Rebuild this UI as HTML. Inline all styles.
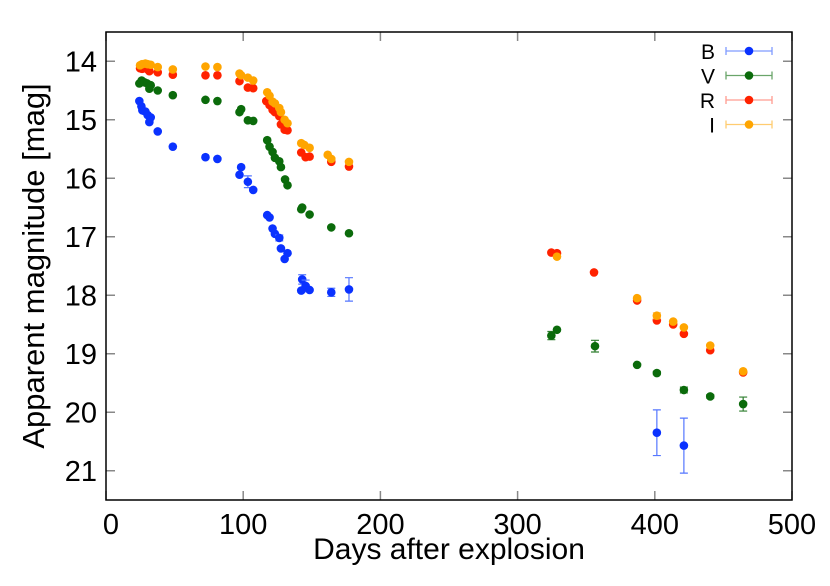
<!DOCTYPE html>
<html><head><meta charset="utf-8"><style>
body{margin:0;background:#fff}
svg text{font-family:"Liberation Sans",sans-serif;fill:#000}
</style></head><body>
<svg id="chart" width="830" height="581" xmlns="http://www.w3.org/2000/svg">
<g id="axes"></g>
<g id="marks"></g>
<g id="legend"></g>
<text x="0" y="0" transform="translate(44,266) rotate(-90)" text-anchor="middle" font-size="31">Apparent magnitude [mag]</text>
<text x="449" y="559" text-anchor="middle" font-size="30">Days after explosion</text>
</svg>
<script>
const xTicks=[0,100,200,300,400,500];
const yTicks=[14,15,16,17,18,19,20,21];
const bDays=[24.3,25.8,26.5,28.7,30.4,32.6,31.6,37.7,48.7,72.5,81.2,98.5,97.3,103.4,107.3,117.5,119.2,121.4,123.1,126.3,127.5,132.3,130.2,143,145.5,142.3,148.4,164.2,177.1,401.5,421.2];
const bMag=[14.68,14.77,14.84,14.86,14.92,14.96,15.04,15.20,15.46,15.64,15.67,15.81,15.94,16.06,16.20,16.63,16.67,16.86,16.95,17.02,17.20,17.28,17.38,17.73,17.84,17.92,17.91,17.95,17.90,20.35,20.57];
const bErr=[0,0,0,0,0,0,0,0,0,0,0,0,0,0.1,0,0,0,0,0,0.05,0,0,0,0.08,0.1,0,0,0.07,0.2,0.39,0.47];
const vDays=[24.3,26,28,30,32.6,31.6,37.7,48.7,72.5,81.2,98.5,97.3,103.4,107.3,117.5,119.2,121.4,123.1,126.3,127.5,130.5,132.3,143,142.3,148.4,164.2,177.1,324.6,328.7,356.4,387.1,401.5,421.2,440.4,464.4];
const vMag=[14.38,14.33,14.36,14.38,14.41,14.47,14.50,14.58,14.66,14.68,14.82,14.87,15.01,15.02,15.35,15.46,15.55,15.65,15.71,15.81,16.02,16.12,16.50,16.53,16.62,16.84,16.94,18.69,18.59,18.87,19.19,19.33,19.62,19.73,19.86];
const vErr=[0,0,0,0,0,0,0,0,0,0,0,0,0,0,0,0,0,0,0,0,0,0,0,0,0,0,0,0.07,0,0.1,0,0.03,0.05,0.03,0.12];
const rDays=[24.8,26.3,28.7,30.4,31.6,37.7,48.7,72.5,81.2,97.3,103.4,107.3,116.8,119.2,121.4,123.1,126.3,127.5,130.2,132.3,142.3,145.5,148.4,164.2,177.1,324.6,328.7,355.7,387.1,401.5,413.4,421.2,440.4,464.4];
const rMag=[14.12,14.13,14.12,14.14,14.17,14.19,14.23,14.24,14.24,14.34,14.45,14.46,14.68,14.75,14.83,14.87,14.94,15.08,15.17,15.18,15.56,15.64,15.63,15.72,15.80,17.27,17.28,17.61,18.09,18.43,18.50,18.66,18.94,19.32];
const iDays=[24.8,26.3,28.7,30.4,32.6,37.7,48.7,72.5,81.2,97.3,98.5,103.4,107.3,117.5,119.2,121.4,123.1,126.3,127.5,130.2,132.3,142.3,144.5,148.4,161.6,164.2,177.1,328.7,387.1,401.5,413.4,421.2,440.4,464.4];
const iMag=[14.07,14.05,14.04,14.05,14.06,14.10,14.14,14.09,14.10,14.21,14.24,14.28,14.33,14.53,14.59,14.69,14.72,14.80,14.87,15.00,15.06,15.40,15.43,15.48,15.60,15.67,15.72,17.34,18.05,18.35,18.45,18.55,18.86,19.30];
const iErr=[0,0,0,0,0,0,0,0,0,0,0,0,0,0,0,0,0,0,0,0,0,0,0,0,0,0,0,0,0,0.05,0,0,0,0];
const L=106,R=792,T=32,B=500,xMin=0,xMax=500,yMin=13.5,yMax=21.5;
const sx=d=>L+(d-xMin)/(xMax-xMin)*(R-L);
const sy=m=>T+(m-yMin)/(yMax-yMin)*(B-T);
const NS="http://www.w3.org/2000/svg";
function mk(tag,attrs,parent){const e=document.createElementNS(NS,tag);for(const k in attrs)e.setAttribute(k,attrs[k]);parent.appendChild(e);return e;}
const axes=document.getElementById('axes');
xTicks.forEach(t=>{
  const l=mk('line',{x1:sx(t),x2:sx(t),y1:B,y2:B-9,stroke:'#888','stroke-width':1.5},axes);
  
  
  const l2=mk('line',{x1:sx(t),x2:sx(t),y1:T,y2:T+9,stroke:'#888','stroke-width':1.5},axes);
  
  
  const tx=mk('text',{x:sx(t)+(t===0?5:0),y:534,'text-anchor':'middle','font-size':29},axes);tx.textContent=t;
  
  
});
yTicks.forEach(t=>{
  const l=mk('line',{x1:L,x2:L+9,y1:sy(t),y2:sy(t),stroke:'#888','stroke-width':1.5},axes);
  
  
  const l2=mk('line',{x1:R,x2:R-9,y1:sy(t),y2:sy(t),stroke:'#888','stroke-width':1.5},axes);
  
  
  const tx=mk('text',{x:97,y:sy(t)+10,'text-anchor':'end','font-size':29},axes);tx.textContent=t;
  
  
});
const frame=mk('rect',{x:L,y:T,width:R-L,height:B-T,fill:'none',stroke:'#000','stroke-width':1.5},axes);


const marks=document.getElementById('marks');
function series(name,days,mags,errs,col,ecol){
  const g=mk('g',{},marks);
  
  
  days.forEach((d,i)=>{
    const x=sx(d),y=sy(mags[i]),e=errs?errs[i]:0;
    if(e>0){
      const eb=mk('path',{d:`M${x},${sy(mags[i]-e)}V${sy(mags[i]+e)}M${x-4},${sy(mags[i]-e)}H${x+4}M${x-4},${sy(mags[i]+e)}H${x+4}`,stroke:ecol,'stroke-width':1.2,fill:'none'},g);
      
      
    }
    const c=mk('circle',{cx:x,cy:y,r:4.3,fill:col},g);
    
    
  });
}
series('v-band',vDays,vMag,vErr,'#0b6b0b','#2e7d2e');
series('r-band',rDays,rMag,null,'#ff2200','#ff8877');
series('i-band',iDays,iMag,iErr,'#ffa500','#ffc060');
series('b-band',bDays,bMag,bErr,'#0a32ff','#5577ff');
const legendLabels=['B','V','R','I'];
const legendColors=['#0a32ff','#0b6b0b','#ff2200','#ffa500'];
const legendLineColors=['#7f9bff','#6aa56a','#ff9c90','#ffcc70'];
const lg=document.getElementById('legend');
legendLabels.forEach((lab,i)=>{
  const y=51+i*24.5;
  const g=mk('g',{},lg);
  
  
  const t=mk('text',{x:715,y:y+8,'text-anchor':'end','font-size':21},g);t.textContent=lab;
  mk('path',{d:`M726,${y}H772M726,${y-4}V${y+4}M772,${y-4}V${y+4}`,stroke:legendLineColors[i],'stroke-width':1.3,fill:'none'},g);
  mk('circle',{cx:749,cy:y,r:4.3,fill:legendColors[i]},g);
});
</script>
</body></html>
